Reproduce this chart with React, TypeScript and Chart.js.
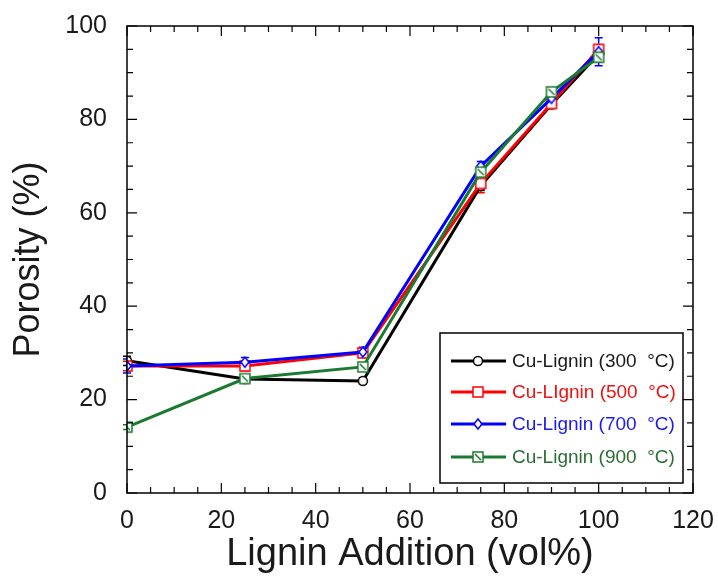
import React, { useEffect, useRef } from "react";
import { Chart, registerables } from "chart.js";

Chart.register(...registerables);

const lignin = [0, 25, 50, 75, 90, 100];
const seriesLabels = [
  "Cu-Lignin (300  °C)",
  "Cu-LIgnin (500  °C)",
  "Cu-Lignin (700  °C)",
  "Cu-Lignin (900  °C)",
];
const porosity300 = [28.3, 24.4, 24.0, 65.8, 83.2, 94.0];
const porosity500 = [27.2, 27.2, 30.0, 66.3, 83.4, 95.0];
const porosity700 = [27.2, 28.0, 30.2, 70.0, 84.5, 94.5];
const porosity900 = [14.1, 24.5, 27.0, 68.7, 85.9, 93.3];
const err300 = [1.0, 0.5, 0.6, 1.0, 0.8, 1.0];
const err500 = [1.0, 1.0, 1.0, 2.0, 0.8, 1.0];
const err700 = [1.5, 1.0, 1.0, 1.0, 0.8, 3.0];
const err900 = [0.5, 0.5, 0.5, 1.0, 0.8, 1.0];
const xTicks = [0, 20, 40, 60, 80, 100, 120];
const yTicks = [0, 20, 40, 60, 80, 100];

const colors = ["#000000", "#ff0000", "#0000ff", "#1b7a30"];
const textColors = ["#1a1a1a", "#ee1111", "#1a1aee", "#2a6e35"];
const shapes = ["circle", "square", "diamond", "slash"];

function makeMarker(shape: string, color: string): HTMLCanvasElement {
  const c = document.createElement("canvas");
  const s = 14;
  c.width = s;
  c.height = s;
  const ctx = c.getContext("2d")!;
  ctx.lineWidth = 1.5;
  ctx.strokeStyle = color;
  ctx.fillStyle = "#ffffff";
  const m = s / 2;
  ctx.beginPath();
  if (shape === "circle") {
    ctx.arc(m, m, 4.5, 0, Math.PI * 2);
  } else if (shape === "diamond") {
    ctx.moveTo(m, m - 5);
    ctx.lineTo(m + 4, m);
    ctx.lineTo(m, m + 5);
    ctx.lineTo(m - 4, m);
    ctx.closePath();
  } else {
    ctx.rect(m - 5, m - 5, 10, 10);
  }
  ctx.fill();
  ctx.stroke();
  if (shape === "slash") {
    ctx.beginPath();
    ctx.moveTo(m - 3, m - 3);
    ctx.lineTo(m + 3, m + 3);
    ctx.stroke();
  }
  return c;
}

const errs = [err300, err500, err700, err900];
const markers = shapes.map((s, i) => makeMarker(s, colors[i]));

const framePlugin = {
  id: "frame",
  beforeDatasetsDraw(chart: any) {
    const { ctx, scales } = chart;
    const xs = scales.x;
    const ys = scales.y;
    ctx.save();
    chart.data.datasets.forEach((ds: any, di: number) => {
      const e = errs[di];
      ctx.strokeStyle = colors[di];
      ctx.lineWidth = 1.5;
      ds.data.forEach((p: any, i: number) => {
        const px = xs.getPixelForValue(p.x);
        const y1 = ys.getPixelForValue(p.y + e[i]);
        const y2 = ys.getPixelForValue(p.y - e[i]);
        ctx.beginPath();
        ctx.moveTo(px, y1);
        ctx.lineTo(px, y2);
        ctx.moveTo(px - 4, y1);
        ctx.lineTo(px + 4, y1);
        ctx.moveTo(px - 4, y2);
        ctx.lineTo(px + 4, y2);
        ctx.stroke();
      });
    });
    ctx.restore();
  },
  afterDraw(chart: any) {
    const { ctx, chartArea: a, scales } = chart;
    const xs = scales.x;
    const ys = scales.y;
    ctx.save();
    ctx.strokeStyle = "#000";
    ctx.lineWidth = 1.5;
    ctx.strokeRect(a.left, a.top, a.right - a.left, a.bottom - a.top);
    ctx.lineWidth = 1.2;
    ctx.beginPath();
    for (let v = 0; v <= 120; v += 5) {
      const px = xs.getPixelForValue(v);
      const len = v % 20 === 0 ? 10 : 6;
      ctx.moveTo(px, a.bottom);
      ctx.lineTo(px, a.bottom - len);
      ctx.moveTo(px, a.top);
      ctx.lineTo(px, a.top + len);
    }
    for (let v = 0; v <= 100; v += 5) {
      const py = ys.getPixelForValue(v);
      const len = v % 20 === 0 ? 10 : 6;
      ctx.moveTo(a.left, py);
      ctx.lineTo(a.left + len, py);
      ctx.moveTo(a.right, py);
      ctx.lineTo(a.right - len, py);
    }
    ctx.stroke();

    ctx.fillStyle = "#1a1a1a";
    ctx.textAlign = "center";
    ctx.textBaseline = "middle";
    ctx.font = '38px "Liberation Sans", Arial, sans-serif';
    ctx.fillText("Lignin Addition (vol%)", (a.left + a.right) / 2, 555);
    ctx.save();
    ctx.translate(29, (a.top + a.bottom) / 2);
    ctx.rotate(-Math.PI / 2);
    ctx.font = '36px "Liberation Sans", Arial, sans-serif';
    ctx.fillText("Porosity (%)", 0, 0);
    ctx.restore();

    const lx = a.right - 253;
    const ly = a.bottom - 160;
    const lw = 243;
    const lh = 150;
    ctx.fillStyle = "#fff";
    ctx.fillRect(lx, ly, lw, lh);
    ctx.lineWidth = 1.5;
    ctx.strokeStyle = "#000";
    ctx.strokeRect(lx, ly, lw, lh);
    const rows = [28, 59, 91, 124];
    ctx.font = '19px "Liberation Sans", Arial, sans-serif';
    ctx.textAlign = "left";
    seriesLabels.forEach((lab, i) => {
      const ry = ly + rows[i];
      ctx.strokeStyle = colors[i];
      ctx.lineWidth = 3;
      ctx.beginPath();
      ctx.moveTo(lx + 11, ry);
      ctx.lineTo(lx + 66, ry);
      ctx.stroke();
      const mk = markers[i];
      ctx.drawImage(mk, lx + 38 - mk.width / 2, ry - mk.height / 2);
      ctx.fillStyle = textColors[i];
      ctx.fillText(lab, lx + 72, ry + 1);
    });
    ctx.restore();
  },
};

export default function App() {
  const ref = useRef<HTMLCanvasElement>(null);
  useEffect(() => {
    document.body.style.margin = "0";
    const series = [porosity300, porosity500, porosity700, porosity900];
    const chart = new Chart(ref.current!, {
      type: "scatter",
      data: {
        datasets: series.map((vals, i) => ({
          label: seriesLabels[i],
          data: lignin.map((x, j) => ({ x, y: vals[j] })),
          showLine: true,
          borderColor: colors[i],
          backgroundColor: colors[i],
          borderWidth: 3,
          pointStyle: markers[i],
          pointRadius: 5,
          order: 3 - i,
        })),
      },
      options: {
        animation: false,
        responsive: false,
        devicePixelRatio: 1,
        layout: { padding: { top: 26, right: 25, left: 0, bottom: 0 } },
        plugins: { legend: { display: false }, tooltip: { enabled: false } },
        scales: {
          x: {
            type: "linear",
            min: 0,
            max: 120,
            afterBuildTicks: (s: any) => {
              s.ticks = xTicks.map((v) => ({ value: v }));
            },
            afterFit: (s: any) => {
              s.height = 87;
              s.paddingLeft = 0;
              s.paddingRight = 0;
            },
            grid: { display: false, drawTicks: false },
            border: { display: false },
            ticks: {
              padding: 13,
              color: "#1a1a1a",
              font: { family: '"Liberation Sans", Arial, sans-serif', size: 25 },
            },
          },
          y: {
            type: "linear",
            min: 0,
            max: 100,
            afterBuildTicks: (s: any) => {
              s.ticks = yTicks.map((v) => ({ value: v }));
            },
            afterFit: (s: any) => {
              s.width = 127;
              s.paddingTop = 0;
              s.paddingBottom = 0;
            },
            grid: { display: false, drawTicks: false },
            border: { display: false },
            ticks: {
              padding: 20,
              color: "#1a1a1a",
              font: { family: '"Liberation Sans", Arial, sans-serif', size: 25 },
            },
          },
        },
      },
      plugins: [framePlugin],
    });
    return () => chart.destroy();
  }, []);
  return (
    <div style={{ position: "fixed", left: 0, top: 0, width: 718, height: 580, background: "#fff" }}>
      <canvas ref={ref} width={718} height={580} />
    </div>
  );
}
